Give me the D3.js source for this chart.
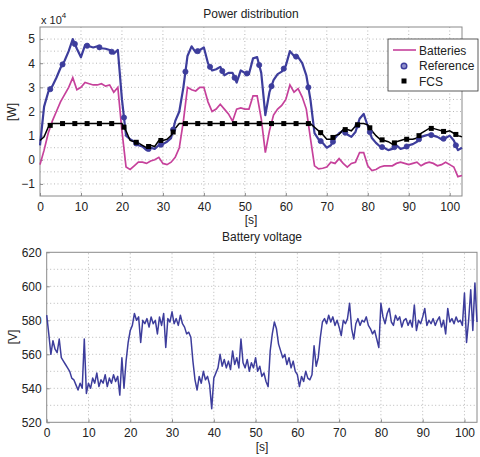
<!DOCTYPE html>
<html>
<head>
<meta charset="utf-8">
<script src="https://cdn.jsdelivr.net/npm/d3@7"></script>
<style>
    body { margin: 0; background: #fff; }
    text { font-family: "Liberation Sans", Arial, sans-serif; fill: #222; }
</style>
</head>
<body>
<svg id="chart" width="480" height="457"></svg>
<script>
// top panel: one sample per second, values in 1e4 W
var seconds = d3.range(0, 104);
var batteries = [
    -0.2, 0.4, 1.1, 1.6, 2.0, 2.4, 2.7, 3.0, 3.4, 2.9,
    3.0, 3.2, 3.15, 3.1, 3.1, 3.15, 3.05, 3.1, 2.8, 3.0,
    1.2, -0.3, -0.4, -0.25, -0.1, -0.1, -0.15, -0.05, 0.0, 0.1,
    -0.15, -0.2, -0.1, 0.1, 0.5, 1.6, 3.0, 2.9, 2.85, 3.0,
    3.0, 2.4, 2.0, 2.1, 2.3, 2.1, 1.9, 1.6, 2.1, 2.15,
    2.1, 2.1, 2.65, 2.65, 1.7, 0.3, 1.2, 1.85, 2.1, 2.25,
    2.5, 3.1, 2.8, 2.95, 2.6, 2.1, 0.9, -0.25, -0.38, -0.35,
    -0.3, -0.1, -0.15, 0.05, -0.15, -0.3, -0.15, -0.1, 0.3, 0.3,
    -0.25, -0.45, -0.4, -0.3, -0.25, -0.25, -0.25, -0.15, -0.1, -0.15,
    -0.2, -0.15, -0.1, -0.25, -0.15, -0.1, -0.15, -0.25, -0.2, -0.1,
    -0.2, -0.3, -0.7, -0.65
];
var reference = [
    0.6, 2.2, 2.8, 3.05, 3.4, 3.8, 4.1, 4.5, 5.0, 4.6,
    4.25, 4.75, 4.7, 4.65, 4.7, 4.62, 4.6, 4.55, 4.4, 4.55,
    2.5, 1.0, 0.85, 0.75, 0.6, 0.55, 0.4, 0.5, 0.45, 0.6,
    0.65, 0.75, 0.9, 1.6, 2.0, 3.0, 4.3, 4.7, 4.45, 4.55,
    4.65, 4.0, 3.7, 3.75, 3.85, 3.5, 3.6, 3.6, 3.2, 3.7,
    3.6, 3.55, 4.2, 4.25, 3.6, 1.85, 2.8, 3.3, 3.55, 3.65,
    3.9, 4.5, 4.3, 4.25, 4.0, 3.5, 2.5, 1.1, 0.85, 0.7,
    0.5, 0.6, 0.9, 1.1, 1.2, 1.05, 0.95, 1.15, 1.7, 1.9,
    1.4, 0.9, 0.7, 0.55, 0.5, 0.4, 0.45, 0.6, 0.45, 0.5,
    0.6, 0.65, 0.75, 0.95, 1.0, 1.05, 1.0, 0.95, 0.85, 0.9,
    1.0, 0.8, 0.4, 0.5
];
var fcs = [
    0.8, 0.95, 1.35, 1.5, 1.5, 1.5, 1.5, 1.5, 1.5, 1.5,
    1.5, 1.5, 1.5, 1.5, 1.5, 1.5, 1.5, 1.5, 1.5, 1.5,
    1.5, 1.2, 0.8, 0.75, 0.7, 0.6, 0.5, 0.6, 0.55, 0.8,
    0.8, 0.85, 1.0, 1.3, 1.5, 1.5, 1.5, 1.5, 1.5, 1.5,
    1.5, 1.5, 1.5, 1.5, 1.5, 1.5, 1.5, 1.5, 1.5, 1.5,
    1.5, 1.5, 1.5, 1.5, 1.5, 1.5, 1.5, 1.5, 1.5, 1.5,
    1.5, 1.5, 1.5, 1.5, 1.5, 1.5, 1.5, 1.35, 1.2, 1.05,
    0.85, 0.85, 1.0, 1.05, 1.25, 1.25, 1.2, 1.4, 1.5, 1.5,
    1.45, 1.2, 1.0, 0.85, 0.8, 0.75, 0.65, 0.75, 0.8, 0.85,
    0.85, 0.85, 0.9, 1.1, 1.2, 1.3, 1.3, 1.25, 1.2, 1.15,
    1.2, 1.1, 1.0, 0.95
];
var markerTimes = d3.range(2.5, 103, 3);

// bottom panel: one sample every 0.5 s, volts
var voltTimes = d3.range(0, 207).map(i => i * 0.5);
var voltage = [
    583, 572, 560, 568, 563, 561, 569, 558, 556, 554,
    552, 550, 546, 545, 542, 539, 543, 540, 569, 537,
    543, 540, 546, 543, 549, 541, 545, 543, 548, 541,
    546, 543, 548, 544, 547, 536, 558, 540, 556, 567,
    574, 577, 584, 580, 582, 567, 580, 578, 581, 576,
    582, 578, 580, 572, 582, 577, 584, 564, 581, 579,
    585, 578, 581, 577, 583, 578, 576, 572, 573, 570,
    556, 545, 539, 547, 543, 550, 545, 547, 542, 528,
    546, 549, 552, 560, 553, 557, 552, 556, 551, 562,
    554, 558, 552, 569, 555, 552, 557, 550, 555, 552,
    558, 550, 553, 547, 549, 544, 541, 562, 572, 579,
    575, 566, 562, 558, 560, 554, 558, 552, 556, 550,
    548, 541, 547, 544, 550, 546, 545, 548, 565, 553,
    558, 570, 579, 581, 578, 583, 579, 582, 577, 580,
    576, 571, 580, 578, 581, 590, 575, 569, 578, 581,
    577, 580, 579, 582, 577, 575, 572, 574, 569, 564,
    590, 582, 578, 584, 587, 579, 577, 583, 580, 582,
    576, 580, 581, 577, 580, 576, 589, 574, 580, 578,
    582, 587, 577, 580, 578, 581, 577, 580, 582, 576,
    580, 572, 587, 579, 581, 578, 582, 579, 580, 577,
    596, 567, 580, 598, 574, 602, 579
];

var timeTicks = [0, 10, 20, 30, 40, 50, 60, 70, 80, 90, 100];
var powerTicks = [-1, 0, 1, 2, 3, 4, 5];
var powerGrid = [-1, -0.5, 0, 0.5, 1, 1.5, 2, 2.5, 3, 3.5, 4, 4.5, 5];
var voltTicks = [520, 540, 560, 580, 600, 620];
var voltGrid = [530, 540, 550, 560, 570, 580, 590, 600, 610];
var legendNames = ["Batteries", "Reference", "FCS"];

var blue = "#3d3d9c",
    magenta = "#c6419b",
    boxColor = "#8a8a8a",
    gridColor = "#b8b8b8";

var svg = d3.select("svg#chart");

function valueAt(series, t) {
    var i = Math.floor(t),
        j = Math.min(i + 1, series.length - 1);
    return series[i] + (series[j] - series[i]) * (t - i);
}

function drawFrame(g, x, y, xTicks, yTicks, yGrid) {
    var x0 = x.range()[0], x1 = x.range()[1],
        y0 = y.range()[0], y1 = y.range()[1];

    g.append("g").selectAll("line").data(xTicks.filter(d => d > 0)).enter()
        .append("line")
        .attr("x1", d => x(d)).attr("x2", d => x(d))
        .attr("y1", y0).attr("y2", y1)
        .style("stroke", gridColor).style("stroke-dasharray", "1,2.5");

    g.append("g").selectAll("line").data(yGrid).enter()
        .append("line")
        .attr("x1", x0).attr("x2", x1)
        .attr("y1", d => y(d)).attr("y2", d => y(d))
        .style("stroke", gridColor).style("stroke-dasharray", "1,2.5");

    var xAxis = g.append("g")
        .attr("transform", "translate(0," + y0 + ")")
        .call(d3.axisBottom(x).tickValues(xTicks).tickFormat(d3.format("d"))
            .tickSizeInner(-3).tickSizeOuter(0).tickPadding(6));
    var yAxis = g.append("g")
        .attr("transform", "translate(" + x0 + ",0)")
        .call(d3.axisLeft(y).tickValues(yTicks).tickFormat(d3.format("d"))
            .tickSizeInner(-3).tickSizeOuter(0).tickPadding(5));

    [xAxis, yAxis].forEach(function (a) {
        a.select(".domain").remove();
        a.selectAll("line").style("stroke", boxColor);
        a.selectAll("text")
            .style("font-size", "12px")
            .style("font-family", "'Liberation Sans', Arial, sans-serif")
            .attr("fill", "#222");
    });

    g.append("rect")
        .attr("x", x0).attr("y", y1)
        .attr("width", x1 - x0).attr("height", y0 - y1)
        .style("fill", "none").style("stroke", boxColor).style("stroke-width", 1);
}

// ---------- Power distribution ----------
var xTop = d3.scaleLinear().domain([0, 103]).range([40, 462]),
    yTop = d3.scaleLinear().domain([-1.5, 5.5]).range([196, 27]);

var powerPanel = svg.append("g");
drawFrame(powerPanel, xTop, yTop, timeTicks, powerTicks, powerGrid);

var powerPlot = powerPanel.append("g");
var lineTop = series => d3.line()
    .x((d, i) => xTop(seconds[i]))
    .y(d => yTop(d))(series);

powerPlot.append("path").attr("d", lineTop(batteries))
    .style("fill", "none").style("stroke", magenta).style("stroke-width", 1.7);
powerPlot.append("path").attr("d", lineTop(reference))
    .style("fill", "none").style("stroke", blue).style("stroke-width", 2.2)
    .style("stroke-linejoin", "round");
powerPlot.append("path").attr("d", lineTop(fcs))
    .style("fill", "none").style("stroke", "#000").style("stroke-width", 1.5);

powerPlot.selectAll(".ref-marker").data(markerTimes).enter()
    .append("circle")
    .attr("class", "ref-marker")
    .attr("cx", d => xTop(d))
    .attr("cy", d => yTop(valueAt(reference, d)))
    .attr("r", 2.6)
    .style("fill", blue).style("stroke", blue).style("stroke-width", 0.8);

powerPlot.selectAll(".fcs-marker").data(markerTimes).enter()
    .append("rect")
    .attr("class", "fcs-marker")
    .attr("x", d => xTop(d) - 2.5)
    .attr("y", d => yTop(valueAt(fcs, d)) - 2.5)
    .attr("width", 5).attr("height", 5)
    .style("fill", "#000");

powerPanel.append("text")
    .attr("x", 251).attr("y", 18)
    .style("text-anchor", "middle").style("font-size", "12px")
    .text("Power distribution");

powerPanel.append("text")
    .attr("x", 251).attr("y", 224)
    .style("text-anchor", "middle").style("font-size", "12px")
    .text("[s]");

powerPanel.append("text")
    .attr("transform", "translate(16,112) rotate(-90)")
    .style("text-anchor", "middle").style("font-size", "12px")
    .text("[W]");

var exp = powerPanel.append("text")
    .attr("x", 41).attr("y", 24)
    .style("font-size", "11px");
exp.append("tspan").text("x 10");
exp.append("tspan").attr("dy", -6).style("font-size", "8px").text("4");

// legend
var legend = powerPanel.append("g").attr("class", "legend");
legend.append("rect")
    .attr("x", 388).attr("y", 39).attr("width", 90).attr("height", 52)
    .style("fill", "#fff").style("stroke", "#333").style("stroke-width", 0.8);
legend.append("line")
    .attr("x1", 393).attr("x2", 416).attr("y1", 50).attr("y2", 50)
    .style("stroke", magenta).style("stroke-width", 1.6);
legend.append("circle")
    .attr("cx", 404).attr("cy", 66).attr("r", 2.8)
    .style("fill", "#8f8fcc").style("stroke", blue).style("stroke-width", 1.4);
legend.append("rect")
    .attr("x", 401.5).attr("y", 78.5).attr("width", 5).attr("height", 5)
    .style("fill", "#000");
legend.selectAll(".legend-text").data(legendNames).enter()
    .append("text")
    .attr("class", "legend-text")
    .attr("x", 419)
    .attr("y", (d, i) => 54.5 + i * 15.5)
    .style("font-size", "12px")
    .text(d => d);

// ---------- Battery voltage ----------
var xBot = d3.scaleLinear().domain([0, 103]).range([46.7, 477]),
    yBot = d3.scaleLinear().domain([520, 620]).range([422.3, 252.3]);

var voltPanel = svg.append("g");
drawFrame(voltPanel, xBot, yBot, timeTicks, voltTicks, voltGrid);

voltPanel.append("path")
    .attr("d", d3.line().x((d, i) => xBot(voltTimes[i])).y(d => yBot(d))(voltage))
    .style("fill", "none").style("stroke", blue).style("stroke-width", 1.5)
    .style("stroke-linejoin", "round");

voltPanel.append("text")
    .attr("x", 262).attr("y", 241)
    .style("text-anchor", "middle").style("font-size", "12px")
    .text("Battery voltage");

voltPanel.append("text")
    .attr("x", 262).attr("y", 451)
    .style("text-anchor", "middle").style("font-size", "12px")
    .text("[s]");

voltPanel.append("text")
    .attr("transform", "translate(17,337) rotate(-90)")
    .style("text-anchor", "middle").style("font-size", "12px")
    .text("[V]");
</script>
</body>
</html>
